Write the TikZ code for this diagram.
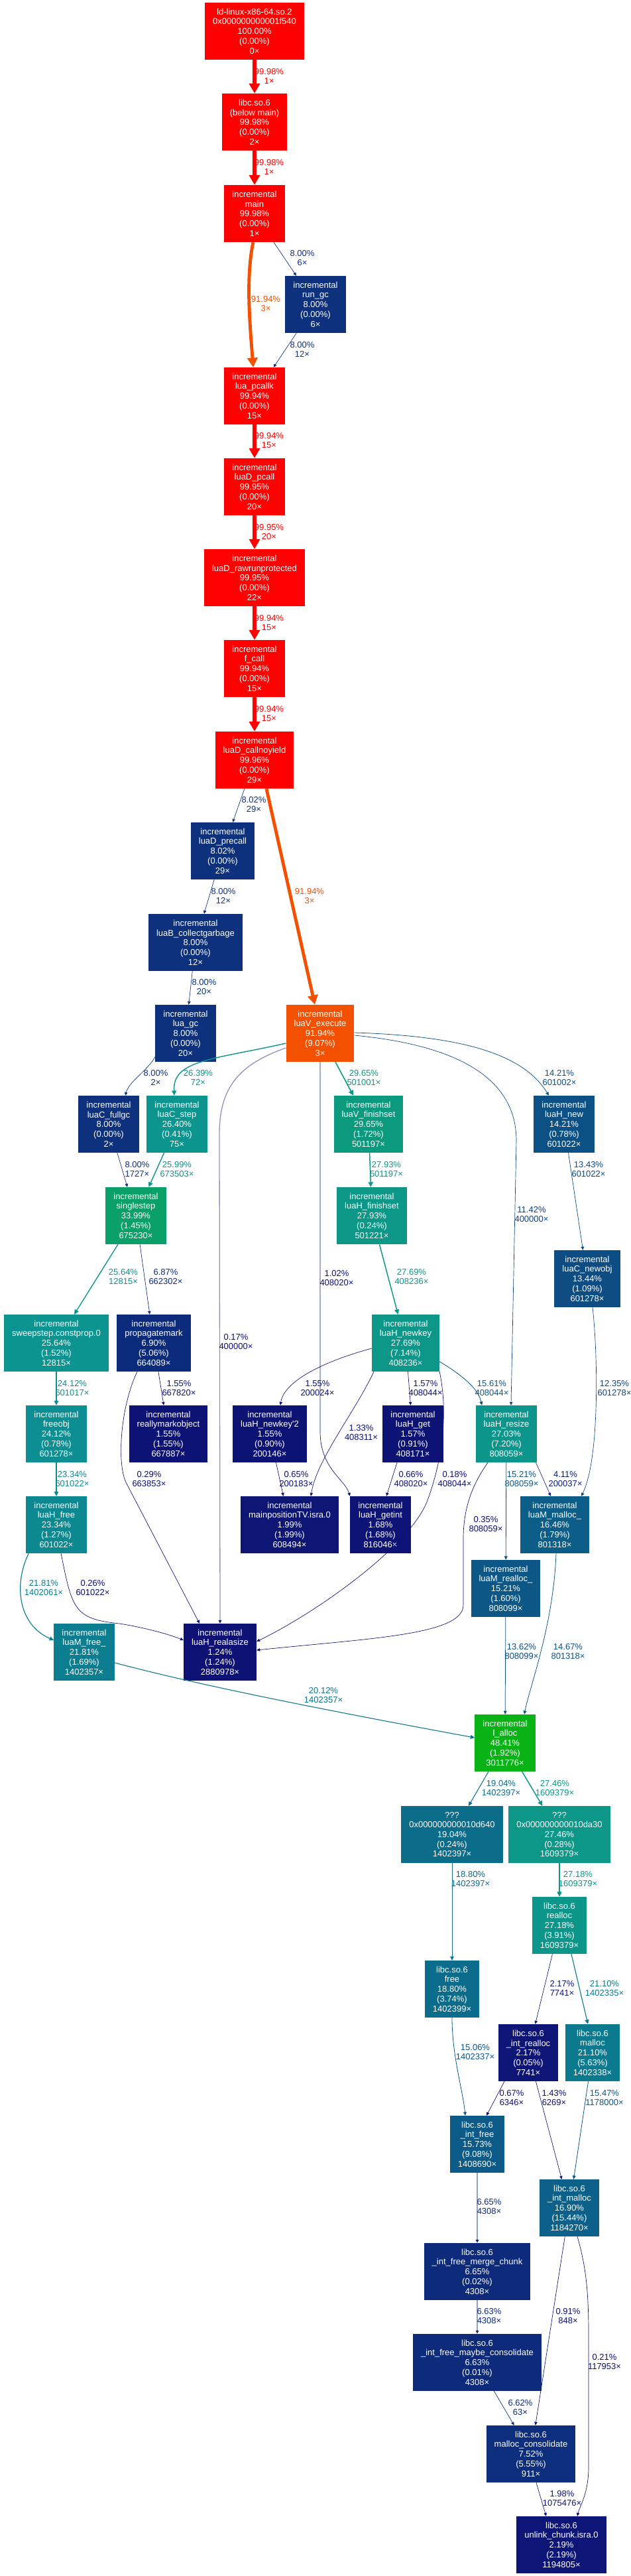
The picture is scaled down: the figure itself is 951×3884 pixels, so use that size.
\documentclass[tikz,border=0pt]{standalone}
\usepackage{fontspec}
\setmainfont{Liberation Sans}
\usetikzlibrary{arrows.meta}

% colour of an entry from its share of the run time (0..1)
\newcommand{\heatcolor}[2]{%
  \pgfmathsetmacro\hotw{#2}%
  \pgfmathsetmacro\hotc{(1+\hotw)*(0.4+0.1*\hotw)}%
  \pgfmathsetmacro\hotm{0.05*(1-\hotw*\hotw)}%
  \pgfmathsetmacro\hotp{4*(1-\hotw)}%
  \pgfmathsetmacro\hotx{\hotc*(1-abs(mod(\hotp,2)-1))}%
  \pgfmathsetmacro\hotr{\hotm+ifthenelse(\hotp<1,\hotc,ifthenelse(\hotp<2,\hotx,0))}%
  \pgfmathsetmacro\hotg{\hotm+ifthenelse(\hotp<1,\hotx,ifthenelse(\hotp<3,\hotc,\hotx))}%
  \pgfmathsetmacro\hotb{\hotm+ifthenelse(\hotp<2,0,ifthenelse(\hotp<3,\hotx,\hotc))}%
  \edef\hotdef{\noexpand\definecolor{#1}{rgb}{\hotr,\hotg,\hotb}}\hotdef}
% text of a function box
\newcommand{\fn}[5]{#1\\#2\\#3\\(#4)\\#5×}

\tikzset{
  fnbox/.style={/utils/exec={\heatcolor{boxcol}{#1}}, rectangle, fill=boxcol, text=white,
    align=center, inner xsep=12pt, inner ysep=2pt, minimum height=86pt,
    font=\fontsize{13pt}{14.7pt}\selectfont},
  call/.style={/utils/exec={\heatcolor{callcol}{#1}%
      \pgfmathsetmacro\callpt{max(4*#1,0.5)}%
      \pgfmathsetmacro\callpw{1.333*\callpt}%
      \pgfmathsetmacro\calltl{6.667*sqrt(\callpt)+0.3*\callpw}%
      \pgfmathsetmacro\calltw{5.333*sqrt(\callpt)+\callpw}},
    draw=callcol, line width=\callpw pt, -{Triangle[length=\calltl pt, width=\calltw pt]}},
  faint/.style={draw=callcol!45, line width=1.3pt,
    -{Triangle[length=\calltl pt, width=\calltw pt, color=callcol]}},
  elabel/.style={text=callcol, align=center, inner sep=0pt,
    font=\fontsize{13pt}{14.7pt}\selectfont},
}

\begin{document}
\begin{tikzpicture}[x=1pt,y=-1pt]
\useasboundingbox (0,0) rectangle (951,3884);
\fill[white] (0,0) rectangle (951,3884);

% startup and interpreter
\node[fnbox=1.0] (ld) at (384,47) {\fn{ld-linux-x86-64.so.2}{0x000000000001f540}{100.00\%}{0.00\%}{0}};
\node[fnbox=0.9998] (belowmain) at (384,184) {\fn{libc.so.6}{(below main)}{99.98\%}{0.00\%}{2}};
\node[fnbox=0.9998] (main) at (384,322) {\fn{incremental}{main}{99.98\%}{0.00\%}{1}};
\node[fnbox=0.08] (rungc) at (476,459) {\fn{incremental}{run\_gc}{8.00\%}{0.00\%}{6}};
\node[fnbox=0.9994] (pcallk) at (384,597) {\fn{incremental}{lua\_pcallk}{99.94\%}{0.00\%}{15}};
\node[fnbox=0.9995] (pcall) at (384,734) {\fn{incremental}{luaD\_pcall}{99.95\%}{0.00\%}{20}};
\node[fnbox=0.9995] (rawrun) at (384,871) {\fn{incremental}{luaD\_rawrunprotected}{99.95\%}{0.00\%}{22}};
\node[fnbox=0.9994] (fcall) at (384,1008) {\fn{incremental}{f\_call}{99.94\%}{0.00\%}{15}};
\node[fnbox=0.9996] (callnoyield) at (384,1146) {\fn{incremental}{luaD\_callnoyield}{99.96\%}{0.00\%}{29}};
\node[fnbox=0.0802] (precall) at (336,1283) {\fn{incremental}{luaD\_precall}{8.02\%}{0.00\%}{29}};
\node[fnbox=0.08] (collectgarbage) at (295,1421) {\fn{incremental}{luaB\_collectgarbage}{8.00\%}{0.00\%}{12}};
\node[fnbox=0.08] (luagc) at (280,1558) {\fn{incremental}{lua\_gc}{8.00\%}{0.00\%}{20}};
\node[fnbox=0.9194] (execute) at (483,1558) {\fn{incremental}{luaV\_execute}{91.94\%}{9.07\%}{3}};
% collector and tables
\node[fnbox=0.08] (fullgc) at (164,1695) {\fn{incremental}{luaC\_fullgc}{8.00\%}{0.00\%}{2}};
\node[fnbox=0.264] (cstep) at (267,1695) {\fn{incremental}{luaC\_step}{26.40\%}{0.41\%}{75}};
\node[fnbox=0.2965] (vfinishset) at (556,1695) {\fn{incremental}{luaV\_finishset}{29.65\%}{1.72\%}{501197}};
\node[fnbox=0.1421] (hnew) at (851,1695) {\fn{incremental}{luaH\_new}{14.21\%}{0.78\%}{601022}};
\node[fnbox=0.3399] (singlestep) at (205,1833) {\fn{incremental}{singlestep}{33.99\%}{1.45\%}{675230}};
\node[fnbox=0.2793] (hfinishset) at (561,1833) {\fn{incremental}{luaH\_finishset}{27.93\%}{0.24\%}{501221}};
\node[fnbox=0.1344] (newobj) at (886,1928) {\fn{incremental}{luaC\_newobj}{13.44\%}{1.09\%}{601278}};
\node[fnbox=0.2564] (sweepstep) at (85,2025) {\fn{incremental}{sweepstep.constprop.0}{25.64\%}{1.52\%}{12815}};
\node[fnbox=0.069] (propagate) at (232,2025) {\fn{incremental}{propagatemark}{6.90\%}{5.06\%}{664089}};
\node[fnbox=0.2769] (newkey) at (612,2025) {\fn{incremental}{luaH\_newkey}{27.69\%}{7.14\%}{408236}};
\node[fnbox=0.2412] (freeobj) at (85,2162) {\fn{incremental}{freeobj}{24.12\%}{0.78\%}{601278}};
\node[fnbox=0.0155] (reallymark) at (254,2162) {\fn{incremental}{reallymarkobject}{1.55\%}{1.55\%}{667887}};
\node[fnbox=0.0155] (newkeytwo) at (407,2162) {\fn{incremental}{luaH\_newkey\textquotesingle 2}{1.55\%}{0.90\%}{200146}};
\node[fnbox=0.0157] (hget) at (623,2162) {\fn{incremental}{luaH\_get}{1.57\%}{0.91\%}{408171}};
\node[fnbox=0.2703] (resize) at (764,2162) {\fn{incremental}{luaH\_resize}{27.03\%}{7.20\%}{808059}};
\node[fnbox=0.2334] (hfree) at (85,2299) {\fn{incremental}{luaH\_free}{23.34\%}{1.27\%}{601022}};
\node[fnbox=0.0199] (mainpos) at (437,2299) {\fn{incremental}{mainpositionTV.isra.0}{1.99\%}{1.99\%}{608494}};
\node[fnbox=0.0168] (getint) at (574,2299) {\fn{incremental}{luaH\_getint}{1.68\%}{1.68\%}{816046}};
\node[fnbox=0.1646] (mmalloc) at (837,2299) {\fn{incremental}{luaM\_malloc\_}{16.46\%}{1.79\%}{801318}};
\node[fnbox=0.1521] (mrealloc) at (763,2395) {\fn{incremental}{luaM\_realloc\_}{15.21\%}{1.60\%}{808099}};
\node[fnbox=0.2181] (mfree) at (127,2491) {\fn{incremental}{luaM\_free\_}{21.81\%}{1.69\%}{1402357}};
\node[fnbox=0.0124] (realasize) at (332,2491) {\fn{incremental}{luaH\_realasize}{1.24\%}{1.24\%}{2880978}};
\node[fnbox=0.4841] (lalloc) at (762,2628) {\fn{incremental}{l\_alloc}{48.41\%}{1.92\%}{3011776}};
% allocator
\node[fnbox=0.1904] (unkA) at (682,2766) {\fn{???}{0x000000000010d640}{19.04\%}{0.24\%}{1402397}};
\node[fnbox=0.2746] (unkB) at (844,2766) {\fn{???}{0x000000000010da30}{27.46\%}{0.28\%}{1609379}};
\node[fnbox=0.2718] (realloc) at (844,2903) {\fn{libc.so.6}{realloc}{27.18\%}{3.91\%}{1609379}};
\node[fnbox=0.188] (free) at (682,2999) {\fn{libc.so.6}{free}{18.80\%}{3.74\%}{1402399}};
\node[fnbox=0.0217] (intrealloc) at (797,3095) {\fn{libc.so.6}{\_int\_realloc}{2.17\%}{0.05\%}{7741}};
\node[fnbox=0.211] (malloc) at (894,3095) {\fn{libc.so.6}{malloc}{21.10\%}{5.63\%}{1402338}};
\node[fnbox=0.1573] (intfree) at (720,3233) {\fn{libc.so.6}{\_int\_free}{15.73\%}{9.08\%}{1408690}};
\node[fnbox=0.169] (intmalloc) at (859,3329) {\fn{libc.so.6}{\_int\_malloc}{16.90\%}{15.44\%}{1184270}};
\node[fnbox=0.0665] (mergechunk) at (720,3425) {\fn{libc.so.6}{\_int\_free\_merge\_chunk}{6.65\%}{0.02\%}{4308}};
\node[fnbox=0.0663] (maybecons) at (720,3562) {\fn{libc.so.6}{\_int\_free\_maybe\_consolidate}{6.63\%}{0.01\%}{4308}};
\node[fnbox=0.0752] (malloccons) at (801,3700) {\fn{libc.so.6}{malloc\_consolidate}{7.52\%}{5.55\%}{911}};
\node[fnbox=0.0219] (unlink) at (847,3837) {\fn{libc.so.6}{unlink\_chunk.isra.0}{2.19\%}{2.19\%}{1194805}};

% calls, top part
\draw[call=0.9998] (ld) -- (belowmain) node[elabel] (l1) at (406,115) {99.98\%\\1×};
\draw[call=0.9998] (belowmain) -- (main) node[elabel] (l2) at (406,252) {99.98\%\\1×};
\draw[call=0.9194] ([xshift=-2pt]main.south) .. controls (370,420) and (378,500) .. ([xshift=-2pt]pcallk.north) node[elabel] (l3) at (401,458) {91.94\%\\3×};
\draw[call=0.08] (main) -- (rungc) node[elabel] (l4) at (456,389) {8.00\%\\6×};
\draw[call=0.08] (rungc) -- (pcallk) node[elabel] (l5) at (456,527) {8.00\%\\12×};
\draw[call=0.9994] (pcallk) -- (pcall) node[elabel] (l6) at (406,664) {99.94\%\\15×};
\draw[call=0.9995] (pcall) -- (rawrun) node[elabel] (l7) at (406,802) {99.95\%\\20×};
\draw[call=0.9994] (rawrun) -- (fcall) node[elabel] (l8) at (406,939) {99.94\%\\15×};
\draw[call=0.9994] (fcall) -- (callnoyield) node[elabel] (l9) at (406,1076) {99.94\%\\15×};
\draw[call=0.0802] (callnoyield) -- (precall) node[elabel] (l10) at (383,1213) {8.02\%\\29×};
\draw[call=0.9194] ([xshift=18pt]callnoyield.south) -- ([xshift=-8pt]execute.north) node[elabel] (l11) at (467,1351) {91.94\%\\3×};
\draw[call=0.08] (precall) -- (collectgarbage) node[elabel] (l12) at (337,1351) {8.00\%\\12×};
\draw[call=0.08] (collectgarbage) -- (luagc) node[elabel] (l13) at (308,1488) {8.00\%\\20×};
\draw[call=0.08] ([yshift=8pt]luagc.south west) .. controls (222,1615) and (195,1630) .. ([xshift=25pt]fullgc.north) node[elabel] (l14) at (235,1625) {8.00\%\\2×};
% calls out of luaV_execute
\draw[call=0.2639] ([yshift=-15pt]execute.west) .. controls (320,1598) and (260,1598) .. ([xshift=-4pt]cstep.north) node[elabel] (l15) at (299,1625) {26.39\%\\72×};
\draw[call=0.2965] (execute) -- (vfinishset) node[elabel] (l16) at (549,1625) {29.65\%\\501001×};
\draw[call=0.1421] ([yshift=1pt]execute.east) .. controls (700,1562) and (790,1590) .. ([xshift=-23pt]hnew.north) node[elabel] (l17) at (844,1625) {14.21\%\\601002×};
\draw[call=0.1142] ([yshift=-3pt]execute.east) .. controls (680,1575) and (779,1620) .. (779,1720) -- ([xshift=7pt]resize.north) node[elabel] (l18) at (802,1831) {11.42\%\\400000×};
\draw[call=0.0102] (execute.south) -- (483,2160) .. controls (484,2215) and (520,2230) .. ([xshift=-46pt]getint.north) node[elabel] (l19) at (508,1927) {1.02\%\\408020×};
\draw[call=0.0017,faint] ([yshift=-22pt]execute.west) .. controls (360,1605) and (331,1640) .. (331,1710) -- (realasize.north) node[elabel] (l20) at (356,2023) {0.17\%\\400000×};
% collector
\draw[call=0.08] (fullgc) -- (singlestep) node[elabel] (l21) at (207,1763) {8.00\%\\1727×};
\draw[call=0.2599] (cstep) -- (singlestep) node[elabel] (l22) at (267,1763) {25.99\%\\673503×};
\draw[call=0.2564] (singlestep) -- (sweepstep) node[elabel] (l25) at (186,1925) {25.64\%\\12815×};
\draw[call=0.0687] (singlestep) -- (propagate) node[elabel] (l26) at (250,1925) {6.87\%\\662302×};
\draw[call=0.0155] (propagate) -- (reallymark) node[elabel] (l29) at (270,2093) {1.55\%\\667820×};
\draw[call=0.0029] ([xshift=-25pt]propagate.south) .. controls (182,2120) and (176,2205) .. (190,2235) -- ([xshift=-31pt]realasize.north) node[elabel] (l30) at (225,2230) {0.29\%\\663853×};
\draw[call=0.2412] (sweepstep) -- (freeobj) node[elabel] (l38) at (109,2093) {24.12\%\\601017×};
\draw[call=0.2334] (freeobj) -- (hfree) node[elabel] (l39) at (109,2230) {23.34\%\\601022×};
\draw[call=0.2181] ([xshift=4pt]hfree.south west) .. controls (20,2390) and (28,2450) .. ([yshift=18pt]mfree.west) node[elabel] (l44) at (66,2394) {21.81\%\\1402061×};
\draw[call=0.0026] ([xshift=7pt]hfree.south) .. controls (108,2420) and (110,2440) .. (172,2447) .. controls (200,2450) and (250,2462) .. ([yshift=18pt]realasize.west) node[elabel] (l45) at (140,2394) {0.26\%\\601022×};
% tables
\draw[call=0.2793] (vfinishset) -- (hfinishset) node[elabel] (l23) at (583,1763) {27.93\%\\501197×};
\draw[call=0.1343] (hnew) -- (newobj) node[elabel] (l24) at (888,1763) {13.43\%\\601022×};
\draw[call=0.2769] (hfinishset) -- (newkey) node[elabel] (l27) at (621,1925) {27.69\%\\408236×};
\draw[call=0.1235] ([xshift=8pt]newobj.south) .. controls (902,2040) and (905,2200) .. ([xshift=40pt]mmalloc.north) node[elabel] (l28) at (927,2093) {12.35\%\\601278×};
\draw[call=0.0155] ([yshift=-8pt]newkey.west) .. controls (480,2055) and (428,2085) .. ([xshift=16pt]newkeytwo.north) node[elabel] (l31) at (479,2093) {1.55\%\\200024×};
\draw[call=0.0133] ([xshift=-48pt]newkey.south) .. controls (535,2130) and (478,2200) .. ([xshift=32pt]mainpos.north) node[elabel] (l32) at (545,2160) {1.33\%\\408311×};
\draw[call=0.0157] (newkey) -- (hget) node[elabel] (l33) at (642,2093) {1.57\%\\408044×};
\draw[call=0.0018] (newkey.south east) .. controls (676,2130) and (668,2200) .. (645,2262) .. controls (620,2330) and (480,2430) .. ([yshift=16pt]realasize.east) node[elabel] (l34) at (686,2230) {0.18\%\\408044×};
\draw[call=0.1561] ([yshift=-28pt]newkey.east) .. controls (700,2075) and (722,2095) .. ([xshift=-37pt]resize.north) node[elabel] (l35) at (742,2093) {15.61\%\\408044×};
\draw[call=0.0065] (newkeytwo) -- (mainpos) node[elabel] (l36) at (447,2230) {0.65\%\\200183×};
\draw[call=0.0066] ([xshift=-24pt]hget.south) -- ([xshift=9pt]getint.north) node[elabel] (l37) at (620,2230) {0.66\%\\408020×};
\draw[call=0.1521] (resize) -- (mrealloc) node[elabel] (l40) at (787,2230) {15.21\%\\808059×};
\draw[call=0.0035] ([xshift=-28pt]resize.south) .. controls (715,2235) and (699,2270) .. (699,2320) -- (699,2420) .. controls (699,2465) and (560,2470) .. ([yshift=3pt]realasize.east) node[elabel] (l41) at (733,2298) {0.35\%\\808059×};
\draw[call=0.0411] ([xshift=-2pt]resize.south east) -- ([xshift=-6pt]mmalloc.north) node[elabel] (l42) at (853,2230) {4.11\%\\200037×};
% into the allocator
\draw[call=0.1362] (mrealloc) -- (lalloc) node[elabel] (l46) at (787,2490) {13.62\%\\808099×};
\draw[call=0.1467] ([xshift=2pt]mmalloc.south) .. controls (835,2450) and (800,2540) .. ([xshift=29pt]lalloc.north) node[elabel] (l47) at (857,2490) {14.67\%\\801318×};
\draw[call=0.2012] ([yshift=-16pt]mfree.east) .. controls (260,2530) and (400,2562) .. ([yshift=8pt]lalloc.west) node[elabel] (l48) at (488,2556) {20.12\%\\1402357×};
\draw[call=0.1904] (lalloc) -- (unkA) node[elabel] (l49) at (756,2696) {19.04\%\\1402397×};
\draw[call=0.2746] (lalloc) -- (unkB) node[elabel] (l50) at (837,2696) {27.46\%\\1609379×};
\draw[call=0.188] (unkA) -- (free) node[elabel] (l51) at (710,2833) {18.80\%\\1402397×};
\draw[call=0.2718] (unkB) -- (realloc) node[elabel] (l52) at (872,2833) {27.18\%\\1609379×};
\draw[call=0.0217] (realloc) -- (intrealloc) node[elabel] (l53) at (848,2998) {2.17\%\\7741×};
\draw[call=0.211] ([xshift=18pt]realloc.south) -- ([xshift=-7pt]malloc.north) node[elabel] (l54) at (912,2998) {21.10\%\\1402335×};
\draw[call=0.1506] (free.south) .. controls (682,3100) and (698,3150) .. ([xshift=-18pt]intfree.north) node[elabel] (l55) at (717,3094) {15.06\%\\1402337×};
\draw[call=0.0067] ([xshift=-36pt]intrealloc.south) -- ([xshift=14pt]intfree.north) node[elabel] (l56) at (772,3163) {0.67\%\\6346×};
\draw[call=0.0143] (intrealloc) -- (intmalloc) node[elabel] (l57) at (836,3163) {1.43\%\\6269×};
\draw[call=0.1547] (malloc) -- (intmalloc) node[elabel] (l58) at (912,3163) {15.47\%\\1178000×};
\draw[call=0.0665,faint] (intfree) -- (mergechunk) node[elabel] (l59) at (738,3327) {6.65\%\\4308×};
\draw[call=0.0663,faint] (mergechunk) -- (maybecons) node[elabel] (l60) at (738,3492) {6.63\%\\4308×};
\draw[call=0.0662] (maybecons) -- (malloccons) node[elabel] (l61) at (785,3630) {6.62\%\\63×};
\draw[call=0.0091] (intmalloc) -- (malloccons) node[elabel] (l62) at (857,3492) {0.91\%\\848×};
\draw[call=0.0021] ([xshift=12pt]intmalloc.south) .. controls (885,3420) and (888,3460) .. (888,3520) -- (888,3720) .. controls (888,3760) and (874,3780) .. ([xshift=24pt]unlink.north) node[elabel] (l63) at (912,3561) {0.21\%\\117953×};
\draw[call=0.0198] ([xshift=8pt]malloccons.south) -- ([xshift=-23pt]unlink.north) node[elabel] (l64) at (848,3767) {1.98\%\\1075476×};
\end{tikzpicture}
\end{document}
